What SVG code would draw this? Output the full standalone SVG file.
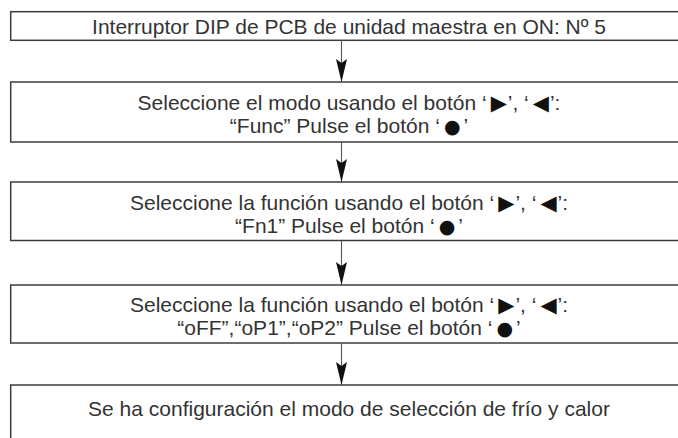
<svg xmlns="http://www.w3.org/2000/svg" width="678" height="438" viewBox="0 0 678 438">
<defs>
<style>
.box{fill:#fff;stroke:#3c3c3c;stroke-width:1.5}
.t{font-family:"Liberation Sans",Arial,"DejaVu Sans",sans-serif;font-size:21px;fill:#333;text-anchor:middle}
.sym{font-family:"DejaVu Sans",sans-serif;font-size:21px;fill:#111}
.dot{font-family:"DejaVu Sans",sans-serif;font-size:19px;fill:#111}
.edge{stroke:#555;stroke-width:1.1;fill:none}
</style>
<marker id="ah" markerUnits="userSpaceOnUse" markerWidth="24" markerHeight="12" refX="23" refY="6" orient="auto" viewBox="0 0 24 12">
<path d="M0,0.5 L23,6 L0,11.5 L4,6 Z" fill="#111"/>
</marker>
</defs>
<rect width="678" height="438" fill="#fff"/>
<g id="n1">
<rect class="box" x="10.7" y="11.7" width="680" height="28.6"/>
<text class="t" x="349" y="34">Interruptor DIP de PCB de unidad maestra en ON: Nº 5</text>
</g>
<g id="n2">
<rect class="box" x="10.7" y="82" width="680" height="60"/>
<text class="t" x="349" y="110">Seleccione el modo usando el botón ‘<tspan class="sym" dx="4">▶</tspan><tspan dx="1">’, ‘</tspan><tspan class="sym" dx="4">◀</tspan><tspan dx="1">’:</tspan></text>
<text class="t" x="349" y="133">“Func” Pulse el botón ‘<tspan class="dot" dx="4">●</tspan><tspan dx="3">’</tspan></text>
</g>
<g id="n3">
<rect class="box" x="10.7" y="182" width="680" height="58.5"/>
<text class="t" x="349" y="210">Seleccione la función usando el botón ‘<tspan class="sym" dx="4">▶</tspan><tspan dx="1">’, ‘</tspan><tspan class="sym" dx="4">◀</tspan><tspan dx="1">’:</tspan></text>
<text class="t" x="349" y="233">“Fn1” Pulse el botón ‘<tspan class="dot" dx="4">●</tspan><tspan dx="3">’</tspan></text>
</g>
<g id="n4">
<rect class="box" x="10.7" y="285" width="680" height="58"/>
<text class="t" x="349" y="312">Seleccione la función usando el botón ‘<tspan class="sym" dx="4">▶</tspan><tspan dx="1">’, ‘</tspan><tspan class="sym" dx="4">◀</tspan><tspan dx="1">’:</tspan></text>
<text class="t" x="349" y="335">“oFF”,“oP1”,“oP2” Pulse el botón ‘<tspan class="dot" dx="4">●</tspan><tspan dx="3">’</tspan></text>
</g>
<g id="n5">
<rect class="box" x="10.7" y="385" width="680" height="80"/>
<text class="t" x="349" y="416">Se ha configuración el modo de selección de frío y calor</text>
</g>
<g id="connectors">
<line class="edge" x1="341.5" y1="40.3" x2="341.5" y2="82" marker-end="url(#ah)"/>
<line class="edge" x1="341.5" y1="142" x2="341.5" y2="182" marker-end="url(#ah)"/>
<line class="edge" x1="341.5" y1="240.5" x2="341.5" y2="285" marker-end="url(#ah)"/>
<line class="edge" x1="341.5" y1="343" x2="341.5" y2="385" marker-end="url(#ah)"/>
</g>
</svg>
